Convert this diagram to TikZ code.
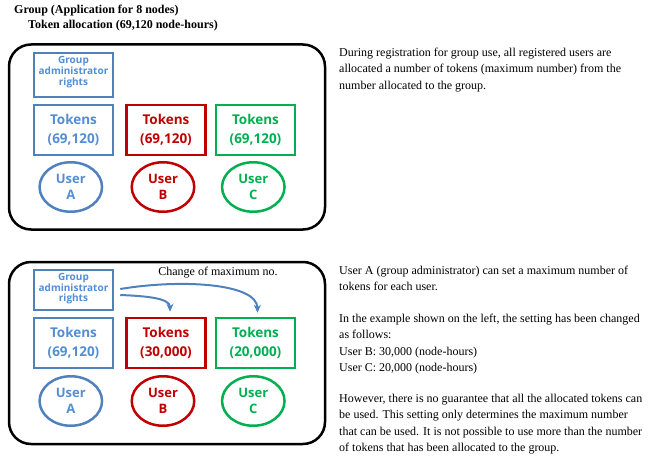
\documentclass[tikz,border=0pt]{standalone}
\usepackage{fontspec}
\setmainfont{Liberation Serif}
\setsansfont{Open Sans}
\usetikzlibrary{shapes.geometric,arrows.meta}
\definecolor{cblue}{RGB}{79,129,189}
\definecolor{tblue}{RGB}{84,141,212}
\definecolor{cred}{RGB}{192,0,0}
\definecolor{cgreen}{RGB}{0,176,80}
\tikzset{
  frame/.style={draw=black, line width=2.5pt, rounded corners=22pt},
  admbox/.style={draw=cblue, text=tblue, line width=2.5pt, minimum width=79pt, minimum height=44pt, align=center, inner sep=0pt, text depth=8pt, font=\sffamily\bfseries\fontsize{10}{10.7}\selectfont},
  tokbox/.style={draw=#1, text=#1, line width=2.5pt, minimum width=79pt, minimum height=50pt, align=center, inner sep=0pt, font=\sffamily\bfseries\fontsize{13.5}{19}\selectfont},
  userell/.style={ellipse, draw=#1, text=#1, line width=2.5pt, minimum width=62.5pt, minimum height=49.5pt, align=center, inner sep=0pt, font=\sffamily\bfseries\fontsize{13}{16}\selectfont},
  arr/.style={draw=cblue, line width=2pt, -{Stealth[length=8pt,width=7pt]}},
  title/.style={anchor=base west, inner sep=0pt, font=\bfseries\fontsize{12}{14}\selectfont},
  para/.style={anchor=north west, align=left, inner sep=0pt, font=\fontsize{12}{16.3}\selectfont},
  lbl/.style={inner sep=0pt, font=\fontsize{12}{14}\selectfont},
}
\begin{document}
\begin{tikzpicture}[x=1pt,y=-1pt]
\useasboundingbox (0,0) rectangle (651,460);
% titles
\node[title] (t1) at (14,14) {Group (Application for 8 nodes)};
\node[title] (t2) at (28,29) {Token allocation (69,120 node-hours)};
% top panel
\draw[frame] (9,44.5) rectangle (325,229.5);
\node[admbox] (adm1) at (73.5,75) {Group\\administrator\\rights};
\node[tokbox=cblue, text=tblue] (tokA1) at (73.5,130) {Tokens\\(69,120)};
\node[tokbox=cred] (tokB1) at (166,130) {Tokens\\(69,120)};
\node[tokbox=cgreen] (tokC1) at (255.5,130) {Tokens\\(69,120)};
\node[userell=cblue, text=tblue] (usrA1) at (70.8,187) {User\\A};
\node[userell=cred] (usrB1) at (163,187) {User\\B};
\node[userell=cgreen] (usrC1) at (253.3,187) {User\\C};
% bottom panel
\draw[frame] (9,262) rectangle (325,444);
\node[admbox, minimum height=40pt, text depth=5pt] (adm2) at (73.5,290) {Group\\administrator\\rights};
\node[lbl] (chg) at (218,273) {Change of maximum no.};
\node[tokbox=cblue, text=tblue] (tokA2) at (73.5,343) {Tokens\\(69,120)};
\node[tokbox=cred] (tokB2) at (166,343) {Tokens\\(30,000)};
\node[tokbox=cgreen] (tokC2) at (255.5,343) {Tokens\\(20,000)};
\node[userell=cblue, text=tblue] (usrA2) at (70.8,401) {User\\A};
\node[userell=cred] (usrB2) at (163,401) {User\\B};
\node[userell=cgreen] (usrC2) at (253.3,401) {User\\C};
\draw[arr] ([xshift=6pt,yshift=1pt]adm2.east) .. controls (180,279) and (257,283) .. ([xshift=2pt,yshift=4pt]tokC2.north);
\draw[arr] ([xshift=6pt,yshift=-5pt]adm2.east) .. controls (145,296) and (170,298) .. ([xshift=4pt,yshift=5pt]tokB2.north);
% right texts
\node[para] (p1) at (339,48) {During registration for group use, all registered users are\\allocated a number of tokens (maximum number) from the\\number allocated to the group.};
\node[para] (p2) at (339,265.5) {User A (group administrator) can set a maximum number of\\tokens for each user.};
\node[para] (p3) at (339,314) {In the example shown on the left, the setting has been changed\\as follows:\\User B: 30,000 (node-hours)\\User C: 20,000 (node-hours)};
\node[para] (p4) at (339,394) {However, there is no guarantee that all the allocated tokens can\\be used. This setting only determines the maximum number\\that can be used. It is not possible to use more than the number\\of tokens that has been allocated to the group.};
\end{tikzpicture}
\end{document}
